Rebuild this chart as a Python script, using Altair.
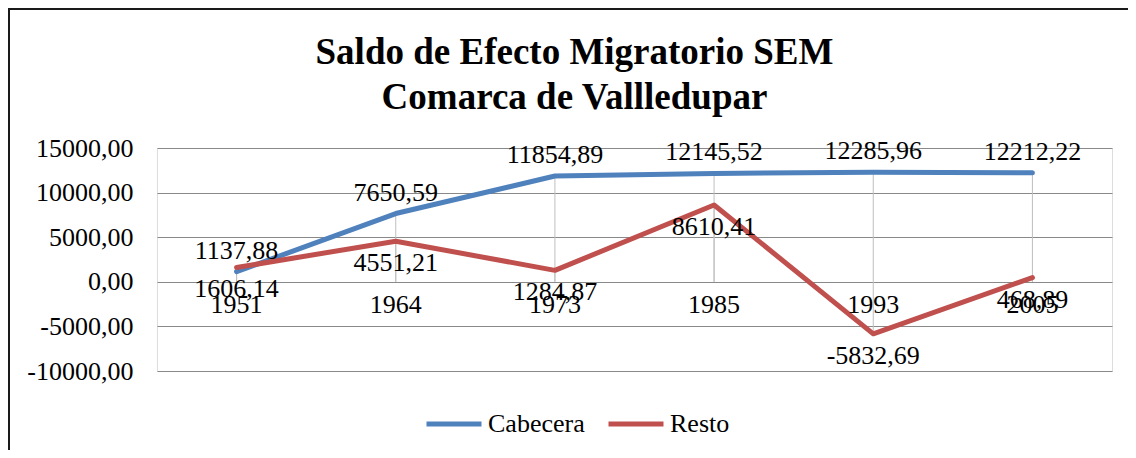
import altair as alt
import pandas as pd

# ---- data ----
years = ["1951", "1964", "1973", "1985", "1993", "2005"]
cabecera = [1137.88, 7650.59, 11854.89, 12145.52, 12285.96, 12212.22]
resto = [1606.14, 4551.21, 1284.87, 8610.41, -5832.69, 468.89]
series_names = ["Cabecera", "Resto"]
series_colors = ["#4F81BD", "#C0504D"]
y_ticks = [-10000, -5000, 0, 5000, 10000, 15000]
title_lines = ["Saldo de Efecto Migratorio SEM", "Comarca de Vallledupar"]

FONT = "'Liberation Serif', 'Times New Roman', Times, 'DejaVu Serif', serif"

rows = []
for name, vals in zip(series_names, [cabecera, resto]):
    for yr, v in zip(years, vals):
        rows.append({"year": yr, "serie": name, "valor": v,
                     "etiqueta": f"{v:.2f}".replace(".", ",")})
df = pd.DataFrame(rows)
cats = pd.DataFrame({"year": years})

xs = alt.X("year:N", sort=years, axis=None,
           scale=alt.Scale(type="point", padding=0.5))
ys = alt.Y("valor:Q",
           scale=alt.Scale(domain=[-10000, 15000], nice=False, zero=False),
           axis=alt.Axis(title=None, values=y_ticks, domain=False, ticks=False,
                         grid=True, gridColor="#898989", gridWidth=1,
                         labelFont=FONT, labelFontSize=26, labelColor="black",
                         labelPadding=24,
                         labelExpr="(datum.value < 0 ? '-' : '') + replace(format(abs(datum.value), '.2f'), '.', ',')"))

base = alt.Chart(df)

drop = base.mark_rule(color="#BFBFBF", strokeWidth=1).encode(
    x=xs, y=ys, y2=alt.datum(0))

lines = base.mark_line(strokeWidth=5, strokeCap="round", strokeJoin="round").encode(
    x=xs, y=ys,
    color=alt.Color("serie:N", scale=alt.Scale(domain=series_names, range=series_colors),
                    legend=alt.Legend(orient="none", legendX=267, legendY=246,
                                      direction="horizontal", title=None,
                                      symbolType="stroke", symbolSize=3025,
                                      symbolStrokeWidth=5, labelFont=FONT,
                                      labelFontSize=26, labelColor="black",
                                      labelOffset=4, columnPadding=13, padding=0)))

lab_cab = base.transform_filter(alt.datum.serie == "Cabecera").mark_text(
    font=FONT, fontSize=26, color="black", baseline="middle", dy=-21).encode(
    x=xs, y=ys, text="etiqueta:N")

lab_res = base.transform_filter(alt.datum.serie == "Resto").mark_text(
    font=FONT, fontSize=26, color="black", baseline="middle", dy=22).encode(
    x=xs, y=ys, text="etiqueta:N")

cat_labels = alt.Chart(cats).mark_text(
    font=FONT, fontSize=26, color="black", baseline="middle", dy=23).encode(
    x=xs, y=alt.datum(0), text="year:N")

frame_left = alt.Chart(cats).mark_rule(color="#1a1a1a", strokeWidth=2).encode(
    x=alt.value(-148), y=alt.value(-140), y2=alt.value(310))
frame_top = alt.Chart(cats).mark_rule(color="#1a1a1a", strokeWidth=2).encode(
    x=alt.value(-149), x2=alt.value(980), y=alt.value(-139))

chart = alt.layer(
    drop, lines, lab_cab, lab_res, cat_labels, frame_left, frame_top
).properties(
    width=955, height=223,
    padding={"left": 149, "top": 140, "right": 16, "bottom": 79},
    autosize=alt.AutoSizeParams(type="none"),
    title=alt.TitleParams(text=title_lines, font=FONT, fontSize=37,
                          fontWeight="bold", color="black", anchor="middle",
                          baseline="top", dx=-60, offset=-110, lineHeight=45),
).configure_view(stroke=None).configure(background="white")

chart.save("out.html", embed_options={"renderer": "svg", "actions": False})
